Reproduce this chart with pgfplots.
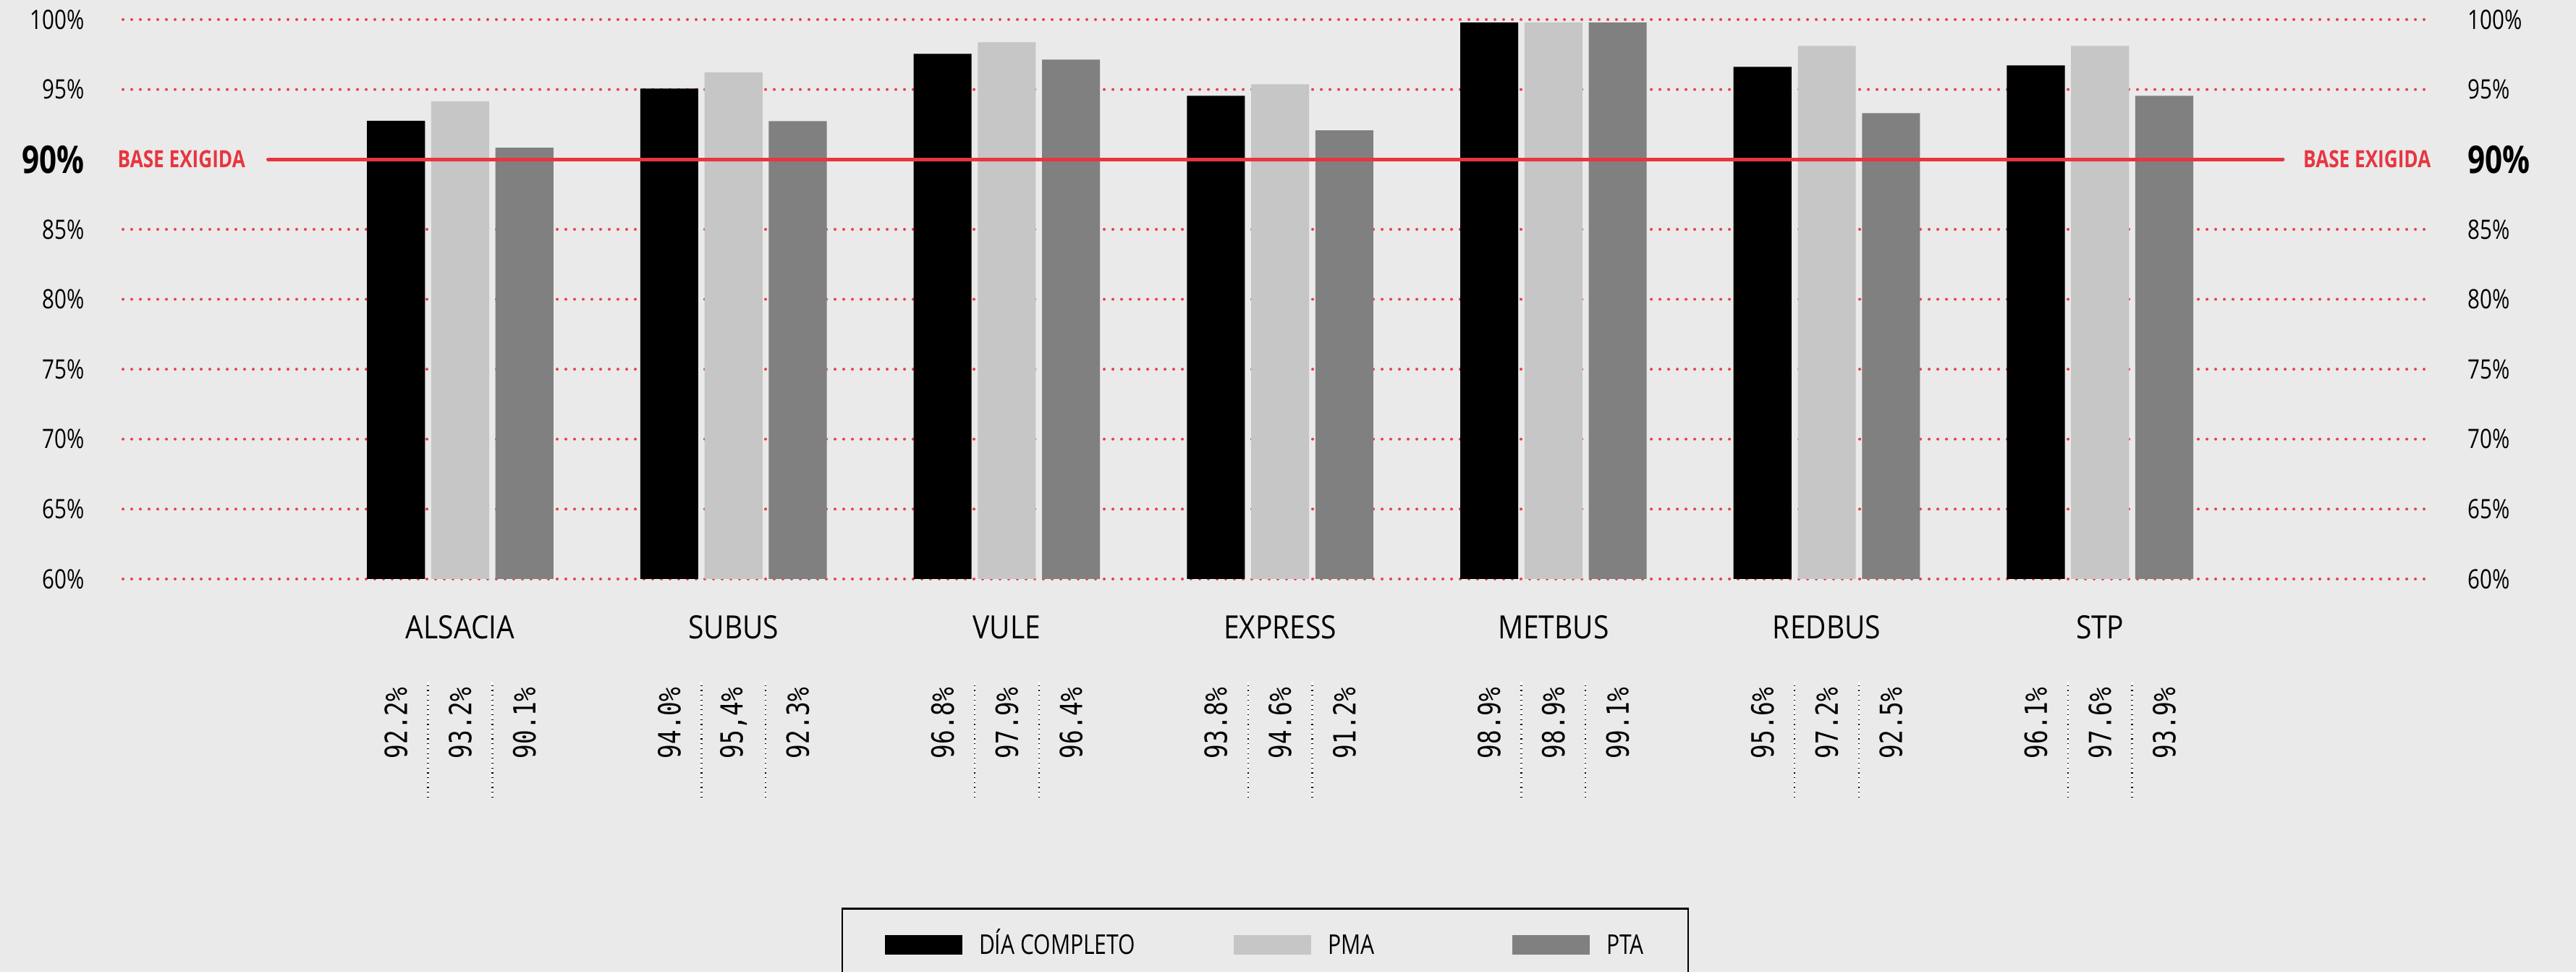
\documentclass[border=0pt]{standalone}
\usepackage{fontspec}
\setmainfont{Open Sans}[FakeStretch=0.8]
\newfontfamily\catfont{Open Sans}[FakeStretch=0.88]
\newfontfamily\valfont{DejaVu Sans Mono}[FakeStretch=0.775]
\usepackage{pgfplots}
\pgfplotsset{compat=1.18}
\definecolor{bg}{HTML}{EAEAEA}
\definecolor{gridred}{HTML}{E8414A}
\definecolor{basered}{HTML}{E8353F}
\definecolor{pma}{HTML}{C6C6C6}
\definecolor{pta}{HTML}{808080}
\begin{document}
\begin{tikzpicture}
\fill[bg] (0,0) rectangle (356mm,134.3mm);
\useasboundingbox (0,0) rectangle (356mm,134.3mm);
\pgfplotsset{
  common/.style={
    at={(17mm,54.3mm)}, anchor=south west,
    scale only axis, width=318.7mm, height=77.3mm,
    xmin=-1.2338, xmax=7.2041, ymin=60, ymax=100,
    axis line style={draw=none},
    major tick length=0pt, tick style={draw=none},
    ytick={60,65,70,75,80,85,95,100},
    yticklabels={60\%,65\%,70\%,75\%,80\%,85\%,95\%,100\%},
    extra y ticks={90},
    extra y tick labels={\bfseries\fontsize{15}{17}\selectfont 90\%},
    extra y tick style={grid=none},
  }
}
% ---------- main axis: bars, grid, left labels, legend
\begin{axis}[common,
  ybar, bar width=0.212,
  xtick={0,1,2,3,4,5,6},
  xticklabels={ALSACIA,SUBUS,VULE,EXPRESS,METBUS,REDBUS,STP},
  xticklabel style={font=\catfont\fontsize{12.6}{15}\selectfont, anchor=base, yshift=-8.3mm, inner sep=0pt},
  yticklabel style={font=\fontsize{10.5}{12}\selectfont, anchor=east, inner sep=0pt, xshift=-5.3mm},
  ymajorgrids,
  grid style={draw=gridred, line width=0.4mm, dash pattern=on 0pt off 1.2mm, line cap=round},
  legend columns=3,
  legend cell align=left,
  legend image code/.code={\fill[#1] (0mm,-1.35mm) rectangle (10.7mm,1.35mm);},
  legend style={at={(0.4953,-0.5873)}, anchor=north, draw=black, line width=0.8pt, fill=none,
    inner xsep=5.9mm, inner ysep=3.7mm,
    nodes={inner sep=0pt, text depth=0pt},
    font=\fontsize{10.7}{12}\selectfont,
    /tikz/every odd column/.append style={column sep=2.3mm},
    /tikz/every even column/.append style={column sep=0pt},
    cells={anchor=west}},
]
\addplot[fill=black, draw=none, bar shift=0pt] coordinates {
  (-0.235,92.76) (0.765,95.07) (1.765,97.55) (2.765,94.55) (3.765,99.78) (4.765,96.62) (5.765,96.72)};
\addlegendentry{\makebox[35.2mm][l]{\raisebox{0pt}[2.6mm][0pt]{DÍA COMPLETO}}}
\addplot[fill=pma, draw=none, bar shift=0pt] coordinates {
  (0,94.14) (1,96.21) (2,98.38) (3,95.38) (4,99.78) (5,98.12) (6,98.12)};
\addlegendentry{\makebox[25.5mm][l]{\raisebox{0pt}[2.6mm][0pt]{PMA}}}
\addplot[fill=pta, draw=none, bar shift=0pt] coordinates {
  (0.235,90.83) (1.235,92.74) (2.235,97.14) (3.235,92.07) (4.235,99.78) (5.235,93.31) (6.235,94.55)};
\addlegendentry{\makebox[5.4mm][l]{\raisebox{0pt}[2.6mm][0pt]{PTA}}}
\end{axis}
% ---------- overlay axis: right labels, base line, value labels
\begin{axis}[common, clip=false,
  xtick=\empty,
  yticklabel pos=right,
  yticklabel style={font=\fontsize{10.5}{12}\selectfont, anchor=west, inner sep=0pt, xshift=5.3mm},
]
\addplot[forget plot, draw=basered, line width=0.5mm, line cap=round] coordinates {(-0.703,90) (6.669,90)};
\node[anchor=west, inner sep=0pt, text=basered, font=\bfseries\fontsize{9.3}{11}\selectfont, xshift=-0.8mm] at (rel axis cs:0,0.75) {BASE EXIGIDA};
\node[anchor=east, inner sep=0pt, text=basered, font=\bfseries\fontsize{9.3}{11}\selectfont, xshift=0.3mm] at (rel axis cs:1,0.75) {BASE EXIGIDA};
% separators
\addplot[forget plot, draw=white, line width=0.22mm, unbounded coords=jump] coordinates {
 (-0.1175,44.37) (-0.1175,52.65) (0,nan) (0.1175,44.37) (0.1175,52.65) (0,nan)
 (0.8825,44.37) (0.8825,52.65) (0,nan) (1.1175,44.37) (1.1175,52.65) (0,nan)
 (1.8825,44.37) (1.8825,52.65) (0,nan) (2.1175,44.37) (2.1175,52.65) (0,nan)
 (2.8825,44.37) (2.8825,52.65) (0,nan) (3.1175,44.37) (3.1175,52.65) (0,nan)
 (3.8825,44.37) (3.8825,52.65) (0,nan) (4.1175,44.37) (4.1175,52.65) (0,nan)
 (4.8825,44.37) (4.8825,52.65) (0,nan) (5.1175,44.37) (5.1175,52.65) (0,nan)
 (5.8825,44.37) (5.8825,52.65) (0,nan) (6.1175,44.37) (6.1175,52.65)};
\addplot[forget plot, draw=black, line width=0.25mm, dash pattern=on 0.12mm off 0.55mm, unbounded coords=jump] coordinates {
 (-0.1175,44.37) (-0.1175,52.65) (0,nan) (0.1175,44.37) (0.1175,52.65) (0,nan)
 (0.8825,44.37) (0.8825,52.65) (0,nan) (1.1175,44.37) (1.1175,52.65) (0,nan)
 (1.8825,44.37) (1.8825,52.65) (0,nan) (2.1175,44.37) (2.1175,52.65) (0,nan)
 (2.8825,44.37) (2.8825,52.65) (0,nan) (3.1175,44.37) (3.1175,52.65) (0,nan)
 (3.8825,44.37) (3.8825,52.65) (0,nan) (4.1175,44.37) (4.1175,52.65) (0,nan)
 (4.8825,44.37) (4.8825,52.65) (0,nan) (5.1175,44.37) (5.1175,52.65) (0,nan)
 (5.8825,44.37) (5.8825,52.65) (0,nan) (6.1175,44.37) (6.1175,52.65)};
% value labels
\tikzset{val/.style={rotate=90, inner sep=0pt, xshift=0.3mm, font=\valfont\fontsize{12}{14}\selectfont}}
\node[val] at (axis cs:-0.235,49.55) {92.2\%};
\node[val] at (axis cs:0,49.55) {93.2\%};
\node[val] at (axis cs:0.235,49.55) {90.1\%};
\node[val] at (axis cs:0.765,49.55) {94.0\%};
\node[val] at (axis cs:1,49.55) {95,4\%};
\node[val] at (axis cs:1.235,49.55) {92.3\%};
\node[val] at (axis cs:1.765,49.55) {96.8\%};
\node[val] at (axis cs:2,49.55) {97.9\%};
\node[val] at (axis cs:2.235,49.55) {96.4\%};
\node[val] at (axis cs:2.765,49.55) {93.8\%};
\node[val] at (axis cs:3,49.55) {94.6\%};
\node[val] at (axis cs:3.235,49.55) {91.2\%};
\node[val] at (axis cs:3.765,49.55) {98.9\%};
\node[val] at (axis cs:4,49.55) {98.9\%};
\node[val] at (axis cs:4.235,49.55) {99.1\%};
\node[val] at (axis cs:4.765,49.55) {95.6\%};
\node[val] at (axis cs:5,49.55) {97.2\%};
\node[val] at (axis cs:5.235,49.55) {92.5\%};
\node[val] at (axis cs:5.765,49.55) {96.1\%};
\node[val] at (axis cs:6,49.55) {97.6\%};
\node[val] at (axis cs:6.235,49.55) {93.9\%};
\end{axis}
\end{tikzpicture}
\end{document}
